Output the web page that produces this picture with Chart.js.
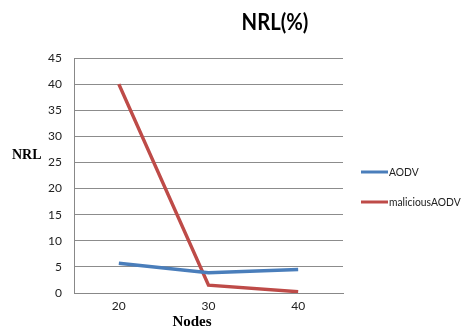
<!DOCTYPE html>
<html>
<head>
<meta charset="utf-8">
<script src="https://cdn.jsdelivr.net/npm/chart.js@4/dist/chart.umd.min.js"></script>
<style>
  html, body { margin: 0; padding: 0; background: #fff; }
  #wrap { width: 464px; height: 333px; position: relative; }
</style>
</head>
<body>
<div id="wrap"><canvas id="c" width="464" height="333"></canvas></div>
<script>
// Network routing load per node count
const nodes = ['20', '30', '40'];
const aodv = [5.7, 3.9, 4.5];
const maliciousAodv = [40, 1.5, 0.25];
const yTicks = [0, 5, 10, 15, 20, 25, 30, 35, 40, 45];

const seriesNames = ['AODV', 'maliciousAODV'];
const seriesColors = ['#4A7EBB', '#BE4B48'];

const sans = 'Lato, "Open Sans", sans-serif';
const serif = '"Liberation Serif", "Times New Roman", serif';

// Draw text squeezed horizontally so it reads like a condensed face
function condensedText(ctx, text, x, y, squeeze) {
  ctx.save();
  ctx.translate(x, y);
  ctx.scale(squeeze, 1);
  ctx.fillText(text, 0, 0);
  ctx.restore();
}

// Title, axis captions and the side legend drawn on the canvas
const decorations = {
  id: 'decorations',
  afterDraw(chart) {
    const ctx = chart.ctx;
    ctx.save();
    ctx.fillStyle = '#000';
    ctx.textBaseline = 'middle';

    ctx.font = 'bold 22px ' + sans;
    ctx.textAlign = 'center';
    condensedText(ctx, 'NRL(%)', 275, 23, 0.92);

    ctx.font = 'bold 14px ' + serif;
    ctx.textAlign = 'left';
    ctx.fillText('NRL', 12, 155);

    ctx.font = 'bold 15px ' + serif;
    ctx.textAlign = 'center';
    ctx.fillText('Nodes', 192, 322);

    ctx.font = '12px ' + sans;
    ctx.textAlign = 'left';
    chart.data.datasets.forEach((ds, i) => {
      const y = 172 + i * 30;
      ctx.strokeStyle = ds.borderColor;
      ctx.lineWidth = 3;
      ctx.beginPath();
      ctx.moveTo(361, y);
      ctx.lineTo(388, y);
      ctx.stroke();
      ctx.fillStyle = '#222';
      condensedText(ctx, ds.label, 389, y, 0.86);
    });
    ctx.restore();
  }
};

new Chart(document.getElementById('c'), {
  type: 'line',
  data: {
    labels: nodes,
    datasets: [
      { label: seriesNames[0], data: aodv, borderColor: seriesColors[0], backgroundColor: seriesColors[0] },
      { label: seriesNames[1], data: maliciousAodv, borderColor: seriesColors[1], backgroundColor: seriesColors[1] }
    ]
  },
  options: {
    responsive: false,
    animation: false,
    devicePixelRatio: 1,
    layout: { padding: { left: 0, right: 121, top: 58, bottom: 0 } },
    elements: {
      line: { borderWidth: 3.5, tension: 0 },
      point: { radius: 0, hoverRadius: 0 }
    },
    plugins: {
      legend: { display: false },
      title: { display: false },
      tooltip: { enabled: false }
    },
    scales: {
      x: {
        offset: true,
        grid: { display: false, drawTicks: false },
        border: { display: true, color: '#888', width: 1 },
        ticks: { color: '#222', font: { family: sans, size: 12 }, padding: 6 },
        afterFit(scale) { scale.height = 40; }
      },
      y: {
        min: 0,
        max: 45,
        afterBuildTicks(scale) { scale.ticks = yTicks.map(v => ({ value: v })); },
        grid: { color: '#8c8c8c', lineWidth: 1, drawTicks: false },
        border: { display: true, color: '#888', width: 1 },
        ticks: { color: '#222', font: { family: sans, size: 12 }, padding: 12 },
        afterFit(scale) { scale.width = 74; }
      }
    }
  },
  plugins: [decorations]
});
</script>
</body>
</html>
